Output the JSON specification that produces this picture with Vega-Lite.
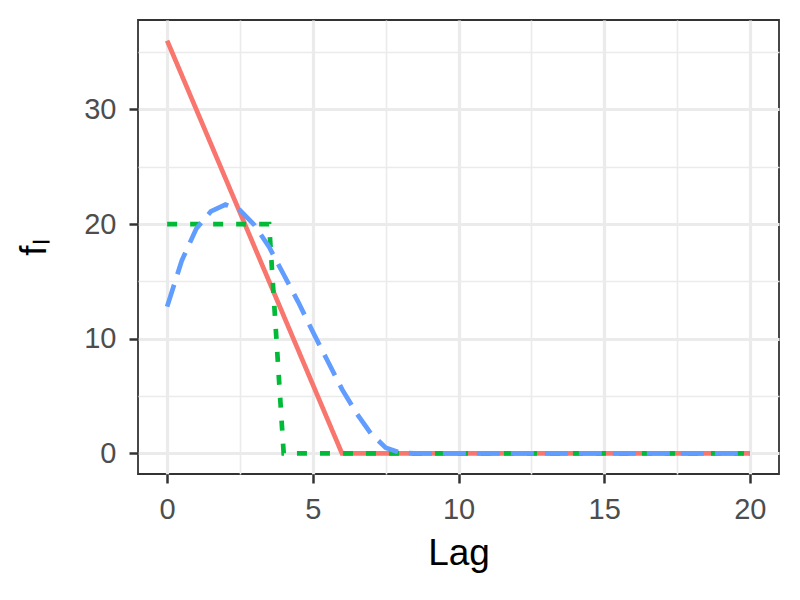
{
  "$schema": "https://vega.github.io/schema/vega-lite/v6.json",
  "width": 641,
  "height": 454,
  "autosize": {"type": "none"},
  "padding": {"left": 138, "top": 20, "right": 21, "bottom": 126},
  "background": "white",
  "config": {
    "view": {"stroke": "#333333", "strokeWidth": 1.8},
    "font": "Liberation Sans"
  },
  "data": {
    "values": [
      {"lag": 0, "f": 36, "series": "a"},
      {"lag": 6, "f": 0, "series": "a"},
      {"lag": 20, "f": 0, "series": "a"},
      {"lag": 0, "f": 20, "series": "b"},
      {"lag": 3.5, "f": 20, "series": "b"},
      {"lag": 4, "f": 0, "series": "b"},
      {"lag": 20, "f": 0, "series": "b"},
      {"lag": 0, "f": 12.8, "series": "c"},
      {"lag": 0.5, "f": 16.8, "series": "c"},
      {"lag": 1, "f": 19.6, "series": "c"},
      {"lag": 1.5, "f": 21.1, "series": "c"},
      {"lag": 2, "f": 21.7, "series": "c"},
      {"lag": 2.5, "f": 21.2, "series": "c"},
      {"lag": 3, "f": 19.9, "series": "c"},
      {"lag": 3.5, "f": 18.0, "series": "c"},
      {"lag": 4, "f": 15.6, "series": "c"},
      {"lag": 4.5, "f": 13.2, "series": "c"},
      {"lag": 5, "f": 10.6, "series": "c"},
      {"lag": 5.5, "f": 8.1, "series": "c"},
      {"lag": 6, "f": 5.6, "series": "c"},
      {"lag": 6.5, "f": 3.5, "series": "c"},
      {"lag": 7, "f": 1.7, "series": "c"},
      {"lag": 7.5, "f": 0.5, "series": "c"},
      {"lag": 8, "f": 0.05, "series": "c"},
      {"lag": 8.5, "f": 0, "series": "c"},
      {"lag": 20, "f": 0, "series": "c"}
    ]
  },
  "mark": {"type": "line", "strokeWidth": 4.7, "strokeCap": "butt", "clip": true},
  "encoding": {
    "x": {
      "field": "lag",
      "type": "quantitative",
      "scale": {"domain": [-1, 21], "nice": false, "zero": false},
      "axis": {
        "values": [0, 2.5, 5, 7.5, 10, 12.5, 15, 17.5, 20],
        "labelExpr": "datum.value % 5 === 0 ? datum.label : ''",
        "grid": true,
        "gridColor": "#EBEBEB",
        "gridWidth": {"condition": {"test": "datum.value % 5 !== 0", "value": 1.6}, "value": 3.2},
        "domain": false,
        "tickColor": "#333333",
        "tickSize": 9,
        "tickWidth": 2.5,
        "tickOpacity": {"condition": {"test": "datum.value % 5 !== 0", "value": 0}, "value": 1},
        "labelFontSize": 29,
        "labelColor": "#4D4D4D",
        "labelPadding": 12,
        "labelFlush": false,
        "title": "Lag",
        "titleFontSize": 37,
        "titleFontWeight": "normal",
        "titleColor": "#000000",
        "titlePadding": 11
      }
    },
    "y": {
      "field": "f",
      "type": "quantitative",
      "scale": {"domain": [-1.8, 37.8], "nice": false, "zero": false},
      "axis": {
        "values": [0, 5, 10, 15, 20, 25, 30, 35],
        "labelExpr": "datum.value % 10 === 0 ? datum.label : ''",
        "grid": true,
        "gridColor": "#EBEBEB",
        "gridWidth": {"condition": {"test": "datum.value % 10 !== 0", "value": 1.6}, "value": 3.2},
        "domain": false,
        "tickColor": "#333333",
        "tickSize": 9,
        "tickWidth": 2.5,
        "tickOpacity": {"condition": {"test": "datum.value % 10 !== 0", "value": 0}, "value": 1},
        "labelFontSize": 29,
        "labelColor": "#4D4D4D",
        "labelPadding": 13,
        "labelFlush": false,
        "title": "fₗ",
        "titleFontSize": 37,
        "titleFontWeight": "normal",
        "titleColor": "#000000",
        "titlePadding": 30
      }
    },
    "color": {
      "field": "series",
      "type": "nominal",
      "scale": {"domain": ["a", "b", "c"], "range": ["#F8766D", "#00BA38", "#619CFF"]},
      "legend": null
    },
    "strokeDash": {
      "field": "series",
      "type": "nominal",
      "scale": {"domain": ["a", "b", "c"], "range": [[1, 0], [10, 13], [23, 11]]},
      "legend": null
    }
  }
}
